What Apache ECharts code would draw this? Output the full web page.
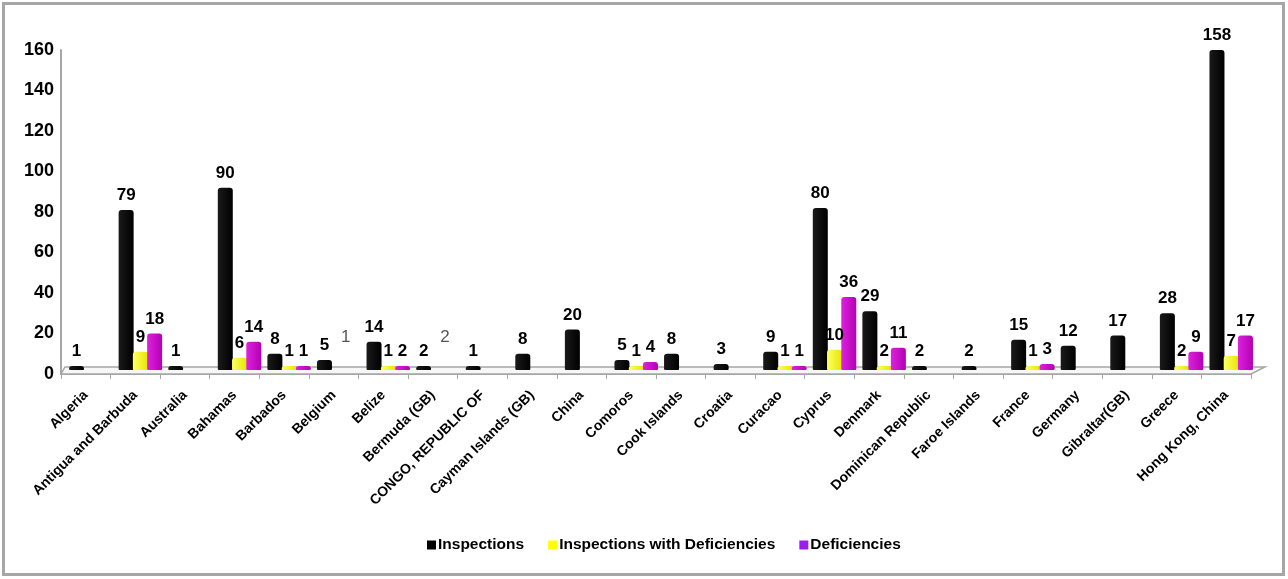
<!DOCTYPE html>
<html>
<head>
<meta charset="utf-8">
<script src="https://cdn.jsdelivr.net/npm/echarts@6/dist/echarts.min.js"></script>
<style>
  html, body { margin: 0; padding: 0; background: #fff; }
  #chart { width: 1288px; height: 579px; }
</style>
</head>
<body>
<div id="chart"></div>
<script>
// Flag states and inspection counts
const categories = [
  'Algeria', 'Antigua and Barbuda', 'Australia', 'Bahamas', 'Barbados', 'Belgium',
  'Belize', 'Bermuda (GB)', 'CONGO, REPUBLIC OF', 'Cayman Islands (GB)', 'China',
  'Comoros', 'Cook Islands', 'Croatia', 'Curacao', 'Cyprus', 'Denmark',
  'Dominican Republic', 'Faroe Islands', 'France', 'Germany', 'Gibraltar(GB)',
  'Greece', 'Hong Kong, China'
];
const inspections = [1, 79, 1, 90, 8, 5, 14, 2, 1, 8, 20, 5, 8, 3, 9, 80, 29, 2, 2, 15, 12, 17, 28, 158];
const inspectionsWithDef = [null, 9, null, 6, 1, null, 1, null, null, null, null, 1, null, null, 1, 10, 2, null, null, 1, null, null, 2, 7];
const deficiencies = [null, 18, null, 14, 1, null, 2, null, null, null, null, 4, null, null, 1, 36, 11, null, null, 3, null, null, 9, 17];
const yTicks = [0, 20, 40, 60, 80, 100, 120, 140, 160];

// Loose text notes placed beside two of the categories
const noteCategories = ['Belgium', 'Bermuda (GB)'];
const noteTexts = ['1', '2'];

const seriesNames = ['Inspections', 'Inspections with Deficiencies', 'Deficiencies'];
const legendColors = ['#000000', '#ffff00', '#9b1cf0'];

function shade(c0, c1) {
  return { type: 'linear', x: 0, y: 0, x2: 1, y2: 0, colorStops: [{ offset: 0, color: c0 }, { offset: 1, color: c1 }] };
}
const barColors = [
  shade('#1a1a1a', '#000000'),
  shade('#ffff66', '#e6e600'),
  shade('#dd22dd', '#b400b4')
];

const FONT = 'Liberation Sans, Arial, sans-serif';
const chart = echarts.init(document.getElementById('chart'));

const labelStyle = {
  show: true,
  position: 'top',
  distance: 6,
  color: '#000',
  fontFamily: FONT,
  fontWeight: 'bold',
  fontSize: 17
};

function barSeries(name, data, color) {
  return {
    name: name,
    type: 'bar',
    xAxisIndex: 1,
    yAxisIndex: 1,
    data: data,
    barWidth: 15,
    barGap: '-5%',
    barMinHeight: 4,
    itemStyle: { color: color, borderRadius: [3, 3, 1, 1] },
    label: labelStyle,
    z: 3
  };
}

const yRange = {
  type: 'value',
  min: yTicks[0],
  max: yTicks[yTicks.length - 1],
  interval: yTicks[1] - yTicks[0],
  splitLine: { show: false }
};

chart.setOption({
  animation: false,
  backgroundColor: '#fff',
  grid: [
    // axes frame
    { left: 61, right: 37, top: 50, bottom: 205 },
    // bar columns sit slightly back and to the right, as on a 3D floor
    { left: 66, right: 32, top: 46, bottom: 209 }
  ],
  legend: {
    bottom: 21,
    left: 422,
    itemWidth: 9,
    itemHeight: 9,
    itemGap: 24,
    icon: 'rect',
    textStyle: {
      fontFamily: FONT,
      fontWeight: 'bold',
      fontSize: 15.5,
      color: '#000',
      padding: [0, 0, 0, -3]
    },
    data: seriesNames.map((n, i) => ({ name: n, itemStyle: { color: legendColors[i] } }))
  },
  xAxis: [
    {
      type: 'category',
      gridIndex: 0,
      data: categories,
      axisLine: { show: true, lineStyle: { color: '#a6a6a6', width: 2 } },
      axisTick: { show: true, length: 5, lineStyle: { color: '#a6a6a6' } },
      axisLabel: {
        interval: 0,
        rotate: 45,
        margin: 19,
        color: '#000',
        fontFamily: FONT,
        fontWeight: 'bold',
        fontSize: 14
      }
    },
    {
      type: 'category',
      gridIndex: 1,
      data: categories,
      show: false
    }
  ],
  yAxis: [
    Object.assign({}, yRange, {
      gridIndex: 0,
      axisLine: { show: true, lineStyle: { color: '#a6a6a6', width: 2 } },
      axisTick: { show: false },
      axisLabel: {
        margin: 7,
        color: '#000',
        fontFamily: FONT,
        fontWeight: 'bold',
        fontSize: 18
      }
    }),
    Object.assign({}, yRange, { gridIndex: 1, show: false })
  ],
  series: [
    barSeries(seriesNames[0], inspections, barColors[0]),
    barSeries(seriesNames[1], inspectionsWithDef, barColors[1]),
    barSeries(seriesNames[2], deficiencies, barColors[2])
  ]
});

// Floor slab, frame and loose notes, placed from the axis scales
function drawDecor() {
  const p0 = chart.convertToPixel({ xAxisIndex: 0, yAxisIndex: 0 }, [0, 0]);
  const rect = chart.getModel().getComponent('grid', 0).coordinateSystem.getRect();
  const x0 = rect.x;
  const x1 = rect.x + rect.width;
  const yFront = p0[1];
  const depth = 7;
  const elements = [
    {
      type: 'polygon',
      shape: { points: [[x0, yFront], [x1, yFront], [x1 + 14, yFront - depth], [x0 + 4, yFront - depth]] },
      style: { fill: '#f7f7f7', stroke: '#a6a6a6', lineWidth: 1.5 },
      z: 1
    },
    {
      type: 'rect',
      shape: { x: 3.5, y: 3.5, width: 1280, height: 571 },
      style: { fill: null, stroke: '#a6a6a6', lineWidth: 3 },
      z: 0
    }
  ];
  noteCategories.forEach((c, i) => {
    const px = chart.convertToPixel({ xAxisIndex: 0 }, c);
    elements.push({
      type: 'text',
      x: px + 12,
      y: yFront - 37,
      style: {
        text: noteTexts[i],
        fill: '#555',
        font: '17px "Liberation Sans", Arial, sans-serif',
        align: 'center',
        verticalAlign: 'middle'
      },
      z: 5
    });
  });
  chart.setOption({ graphic: elements });
}
drawDecor();
</script>
</body>
</html>
